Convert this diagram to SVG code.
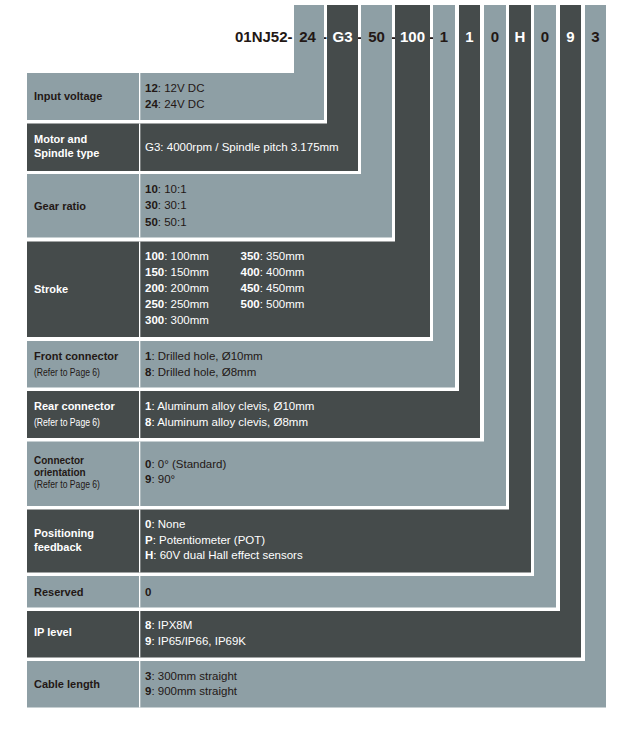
<svg xmlns="http://www.w3.org/2000/svg" width="639" height="733" viewBox="0 0 639 733">
<style>
.lt{fill:#8e9fa5}
.dk{fill:#454b4b}
.div{fill:#ffffff}
text{font-family:"Liberation Sans",Arial,sans-serif;font-size:11.5px}
.lab{font-weight:bold;font-size:11px}
.lab2{font-weight:bold;font-size:10px}
.ref{font-size:10px}
.b{font-weight:bold}
.hd{font-weight:bold;font-size:15px}
.onl{fill:#231815}
.ond{fill:#ffffff}
</style>
<rect width="639" height="733" fill="#ffffff"/>
<g id="connectors"/>
<g id="header">
<text class="hd onl" x="292.5" y="41.5" text-anchor="end">01NJ52-</text>
<text class="hd onl" x="324.5" y="41.5" text-anchor="middle">-</text>
<text class="hd onl" x="359.5" y="41.5" text-anchor="middle">-</text>
<text class="hd onl" x="393.5" y="41.5" text-anchor="middle">-</text>
<text class="hd onl" x="431.5" y="41.5" text-anchor="middle">-</text>
</g>
<g id="n1">
<path class="lt" d="M294 5H324V120H27V73H294Z"/>
<rect class="div" x="139" y="73" width="1.3" height="47"/>
<text class="hd onl" x="307.5" y="41.5" text-anchor="middle">24</text>
<text class="lab onl" x="34" y="100">Input voltage</text>
<text class="onl" x="145" y="92"><tspan class="b">12</tspan>: 12V DC</text>
<text class="onl" x="145" y="108"><tspan class="b">24</tspan>: 24V DC</text>
</g>
<g id="n2">
<path class="dk" d="M327 5H358V171H27V123.5H327Z"/>
<rect class="div" x="139" y="123.5" width="1.3" height="47.5"/>
<text class="hd ond" x="342.5" y="41.5" text-anchor="middle">G3</text>
<text class="lab ond" x="34" y="143">Motor and</text>
<text class="lab ond" x="34" y="157">Spindle type</text>
<text class="ond" x="145" y="151">G3: 4000rpm / Spindle pitch 3.175mm</text>
</g>
<g id="n3">
<path class="lt" d="M361 5H392V237.5H27V174H361Z"/>
<rect class="div" x="139" y="174" width="1.3" height="63.5"/>
<text class="hd onl" x="376.5" y="41.5" text-anchor="middle">50</text>
<text class="lab onl" x="34" y="209.5">Gear ratio</text>
<text class="onl" x="145" y="192.5"><tspan class="b">10</tspan>: 10:1</text>
<text class="onl" x="145" y="209"><tspan class="b">30</tspan>: 30:1</text>
<text class="onl" x="145" y="225.5"><tspan class="b">50</tspan>: 50:1</text>
</g>
<g id="n4">
<path class="dk" d="M395 5H430V337H27V241.5H395Z"/>
<rect class="div" x="139" y="241.5" width="1.3" height="95.5"/>
<text class="hd ond" x="412.5" y="41.5" text-anchor="middle">100</text>
<text class="lab ond" x="34" y="292.5">Stroke</text>
<text class="ond" x="145" y="260"><tspan class="b">100</tspan>: 100mm</text>
<text class="ond" x="145" y="276"><tspan class="b">150</tspan>: 150mm</text>
<text class="ond" x="145" y="292"><tspan class="b">200</tspan>: 200mm</text>
<text class="ond" x="145" y="308"><tspan class="b">250</tspan>: 250mm</text>
<text class="ond" x="145" y="324"><tspan class="b">300</tspan>: 300mm</text>
<text class="ond" x="240.5" y="260"><tspan class="b">350</tspan>: 350mm</text>
<text class="ond" x="240.5" y="276"><tspan class="b">400</tspan>: 400mm</text>
<text class="ond" x="240.5" y="292"><tspan class="b">450</tspan>: 450mm</text>
<text class="ond" x="240.5" y="308"><tspan class="b">500</tspan>: 500mm</text>
</g>
<g id="n5">
<path class="lt" d="M433 5H455V387.5H27V341H433Z"/>
<rect class="div" x="139" y="341" width="1.3" height="46.5"/>
<text class="hd onl" x="444" y="41.5" text-anchor="middle">1</text>
<text class="lab onl" x="34" y="359.5">Front connector</text>
<text class="ref onl" x="34" y="375.5" textLength="66" lengthAdjust="spacingAndGlyphs">(Refer to Page 6)</text>
<text class="onl" x="145" y="359.5"><tspan class="b">1</tspan>: Drilled hole, Ø10mm</text>
<text class="onl" x="145" y="375.5"><tspan class="b">8</tspan>: Drilled hole, Ø8mm</text>
</g>
<g id="n6">
<path class="dk" d="M459 5H480V438H27V391H459Z"/>
<rect class="div" x="139" y="391" width="1.3" height="47"/>
<text class="hd ond" x="469.5" y="41.5" text-anchor="middle">1</text>
<text class="lab ond" x="34" y="410">Rear connector</text>
<text class="ref ond" x="34" y="426" textLength="66" lengthAdjust="spacingAndGlyphs">(Refer to Page 6)</text>
<text class="ond" x="145" y="410"><tspan class="b">1</tspan>: Aluminum alloy clevis, Ø10mm</text>
<text class="ond" x="145" y="426"><tspan class="b">8</tspan>: Aluminum alloy clevis, Ø8mm</text>
</g>
<g id="n7">
<path class="lt" d="M484 5H506V506H27V441.5H484Z"/>
<rect class="div" x="139" y="441.5" width="1.3" height="64.5"/>
<text class="hd onl" x="495" y="41.5" text-anchor="middle">0</text>
<text class="lab2 onl" x="34" y="463.5">Connector</text>
<text class="lab2 onl" x="34" y="475.5">orientation</text>
<text class="ref onl" x="34" y="488" textLength="66" lengthAdjust="spacingAndGlyphs">(Refer to Page 6)</text>
<text class="onl" x="145" y="467.5"><tspan class="b">0</tspan>: 0° (Standard)</text>
<text class="onl" x="145" y="483"><tspan class="b">9</tspan>: 90°</text>
</g>
<g id="n8">
<path class="dk" d="M509 5H531V572.5H27V509.5H509Z"/>
<rect class="div" x="139" y="509.5" width="1.3" height="63"/>
<text class="hd ond" x="520" y="41.5" text-anchor="middle">H</text>
<text class="lab ond" x="34" y="537">Positioning</text>
<text class="lab ond" x="34" y="550.5">feedback</text>
<text class="ond" x="145" y="528"><tspan class="b">0</tspan>: None</text>
<text class="ond" x="145" y="543.5"><tspan class="b">P</tspan>: Potentiometer (POT)</text>
<text class="ond" x="145" y="559"><tspan class="b">H</tspan>: 60V dual Hall effect sensors</text>
</g>
<g id="n9">
<path class="lt" d="M534 5H556V607.5H27V576H534Z"/>
<rect class="div" x="139" y="576" width="1.3" height="31.5"/>
<text class="hd onl" x="545" y="41.5" text-anchor="middle">0</text>
<text class="lab onl" x="34" y="595.5">Reserved</text>
<text class="b onl" x="145" y="595.5">0</text>
</g>
<g id="n10">
<path class="dk" d="M560 5H581V657.5H27V611H560Z"/>
<rect class="div" x="139" y="611" width="1.3" height="46.5"/>
<text class="hd ond" x="570.5" y="41.5" text-anchor="middle">9</text>
<text class="lab ond" x="34" y="636">IP level</text>
<text class="ond" x="145" y="628.5"><tspan class="b">8</tspan>: IPX8M</text>
<text class="ond" x="145" y="644.5"><tspan class="b">9</tspan>: IP65/IP66, IP69K</text>
</g>
<g id="n11">
<path class="lt" d="M585 5H606V707.5H27V661H585Z"/>
<rect class="div" x="139" y="661" width="1.3" height="46.5"/>
<text class="hd onl" x="595.5" y="41.5" text-anchor="middle">3</text>
<text class="lab onl" x="34" y="688">Cable length</text>
<text class="onl" x="145" y="679.5"><tspan class="b">3</tspan>: 300mm straight</text>
<text class="onl" x="145" y="695"><tspan class="b">9</tspan>: 900mm straight</text>
</g>
</svg>
